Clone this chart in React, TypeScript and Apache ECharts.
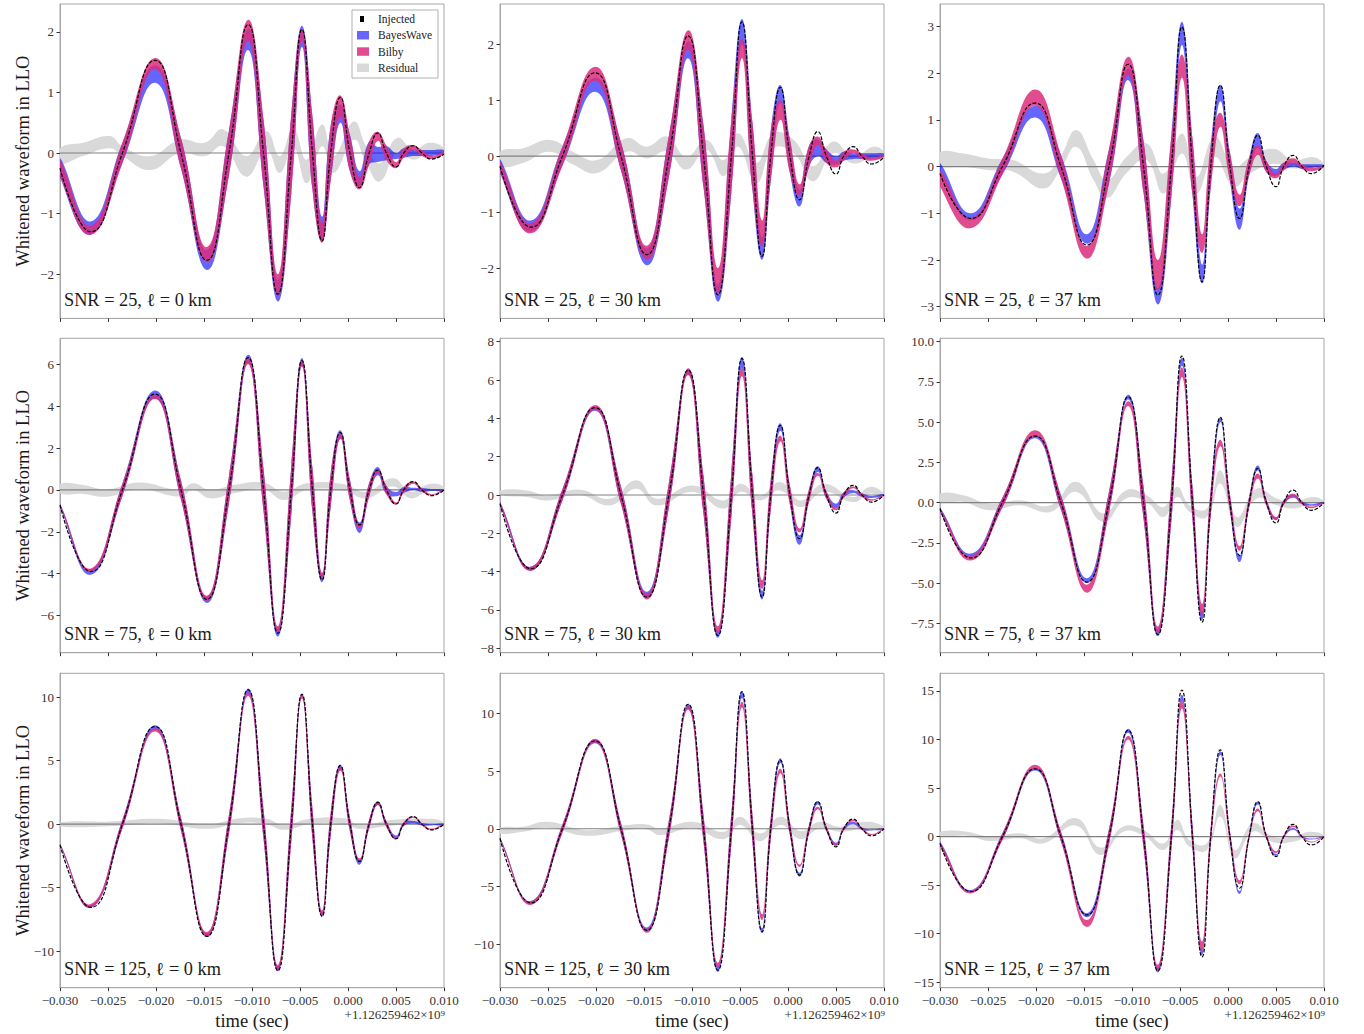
import React, { useEffect, useRef } from "react";
import * as echarts from "echarts";

// ---- shared time samples (extrema incl. start/end, and zero crossings) ----
const EXT_T = [-0.0300, -0.0268, -0.0201, -0.0147, -0.0104, -0.0073, -0.0048, -0.0027, -0.0008, 0.0012, 0.0031, 0.0050, 0.0068, 0.0087, 0.0100];
const ZERO_T = [-0.0235, -0.0174, -0.0124, -0.0088, -0.0059, -0.0037, -0.0018, 0.0002, 0.0022, 0.0040, 0.0058, 0.0077];
const X_TICKS = [-0.03, -0.025, -0.02, -0.015, -0.01, -0.005, 0, 0.005, 0.01];

const SNRS = [25, 75, 125];
const ELLS = [0, 30, 37];

const Y_RANGES = [
  [-2.73, 2.46], [-2.90, 2.72], [-3.25, 3.48],
  [-7.77, 7.24], [-8.23, 8.18], [-9.33, 10.21],
  [-12.89, 11.89], [-13.76, 13.46], [-15.56, 16.82],
];
const Y_TICKS = [
  [-2, -1, 0, 1, 2], [-2, -1, 0, 1, 2], [-3, -2, -1, 0, 1, 2, 3],
  [-6, -4, -2, 0, 2, 4, 6], [-8, -6, -4, -2, 0, 2, 4, 6, 8], [-7.5, -5, -2.5, 0, 2.5, 5, 7.5, 10],
  [-10, -5, 0, 5, 10], [-10, -5, 0, 5, 10], [-15, -10, -5, 0, 5, 10, 15],
];
const Y_DECIMALS = [0, 0, 0, 0, 0, 1, 0, 0, 0];

// band half-thickness at the zero crossings, per SNR row
const ZW_25 = [0.17, 0.25, 0.37, 0.55, 0.65, 0.6, 0.45, 0.3, 0.19, 0.12, 0.08, 0.05];
const ZW_75 = [0.3, 0.45, 0.65, 1.0, 1.15, 1.05, 0.8, 0.5, 0.33, 0.2, 0.14, 0.09];
const ZW_125 = [0.35, 0.5, 0.75, 1.15, 1.3, 1.2, 0.9, 0.55, 0.35, 0.22, 0.15, 0.1];

// ---- SNR 25 ----
const INJ_25_0 = [-0.25, -1.30, 1.53, -1.77, 2.12, -2.33, 2.04, -1.45, 0.92, -0.57, 0.33, -0.23, 0.12, -0.10, -0.02];
const BW_LO_25_0 = [-0.40, -1.35, 1.16, -1.93, 1.70, -2.45, 1.75, -1.45, 0.50, -0.55, -0.15, -0.10, -0.05, -0.05, 0.00];
const BW_HI_25_0 = [-0.08, -1.13, 1.45, -1.60, 2.05, -2.10, 2.10, -1.05, 0.80, -0.30, 0.10, 0.00, 0.05, 0.05, 0.05];
const BB_LO_25_0 = [-0.38, -1.35, 1.38, -1.80, 1.85, -2.35, 1.85, -1.48, 0.60, -0.60, 0.20, -0.25, 0.05, -0.10, -0.02];
const BB_HI_25_0 = [-0.12, -1.20, 1.57, -1.55, 2.20, -2.00, 2.05, -1.15, 0.95, -0.40, 0.35, -0.15, 0.13, -0.05, 0.02];

const INJ_25_30 = [-0.18, -1.27, 1.49, -1.76, 2.15, -2.48, 2.40, -1.79, 1.23, -0.78, 0.44, -0.32, 0.17, -0.14, -0.02];
const BW_LO_25_30 = [-0.30, -1.35, 1.15, -1.95, 1.75, -2.60, 2.00, -1.85, 0.95, -0.90, 0.00, -0.15, -0.05, -0.05, 0.00];
const BW_HI_25_30 = [-0.05, -1.15, 1.40, -1.65, 2.05, -2.30, 2.45, -1.45, 1.27, -0.60, 0.30, 0.00, 0.05, 0.05, 0.05];
const BB_LO_25_30 = [-0.28, -1.38, 1.35, -1.85, 1.90, -2.45, 1.75, -1.60, 0.65, -0.70, 0.20, -0.20, 0.05, -0.08, -0.02];
const BB_HI_25_30 = [-0.10, -1.20, 1.60, -1.60, 2.25, -2.00, 2.10, -1.15, 1.00, -0.50, 0.35, -0.08, 0.12, -0.03, 0.02];

const INJ_25_37 = [-0.15, -1.11, 1.36, -1.68, 2.19, -2.75, 2.99, -2.47, 1.74, -1.11, 0.67, -0.43, 0.24, -0.15, 0.03];
const BW_LO_25_37 = [-0.15, -1.15, 1.05, -1.65, 1.85, -2.95, 2.60, -2.50, 1.40, -1.35, 0.40, -0.20, 0.00, -0.03, 0.00];
const BW_HI_25_37 = [0.08, -1.00, 1.30, -1.45, 2.10, -2.60, 3.10, -2.10, 1.75, -0.90, 0.72, -0.05, 0.08, 0.05, 0.04];
const BB_LO_25_37 = [-0.42, -1.32, 1.30, -1.97, 1.95, -2.65, 1.90, -1.85, 0.85, -0.85, 0.25, -0.25, 0.08, -0.10, -0.02];
const BB_HI_25_37 = [-0.08, -1.10, 1.65, -1.70, 2.35, -2.00, 2.40, -1.45, 1.15, -0.60, 0.45, -0.15, 0.18, -0.03, 0.02];

// ---- SNR 75 ----
const INJ_75_0 = [-0.72, -3.90, 4.58, -5.22, 6.32, -6.84, 6.18, -4.30, 2.74, -1.67, 0.95, -0.67, 0.40, -0.27, 0.00];
const BW_LO_75_0 = [-0.82, -4.05, 4.35, -5.40, 6.05, -7.00, 5.90, -4.40, 2.45, -2.05, 0.70, -0.30, 0.00, -0.05, -0.05];
const BW_HI_75_0 = [-0.65, -3.80, 4.75, -5.10, 6.45, -6.60, 6.30, -4.00, 2.85, -1.55, 1.10, -0.10, 0.10, 0.05, 0.03];
const BB_LO_75_0 = [-0.80, -3.90, 4.35, -5.30, 6.00, -6.80, 5.90, -4.20, 2.45, -1.85, 0.80, -0.70, 0.30, -0.25, -0.03];
const BB_HI_75_0 = [-0.68, -3.75, 4.55, -5.05, 6.30, -6.50, 6.20, -3.95, 2.70, -1.60, 0.95, -0.60, 0.40, -0.20, 0.03];

const INJ_75_30 = [-0.45, -3.85, 4.56, -5.33, 6.52, -7.33, 7.13, -5.33, 3.64, -2.28, 1.43, -0.94, 0.50, -0.37, 0.00];
const BW_LO_75_30 = [-0.55, -3.95, 4.40, -5.35, 6.30, -7.45, 6.60, -5.45, 3.35, -2.60, 1.20, -0.70, 0.10, -0.15, -0.05];
const BW_HI_75_30 = [-0.35, -3.75, 4.60, -5.05, 6.60, -7.10, 7.20, -5.00, 3.75, -2.10, 1.50, -0.45, 0.25, -0.05, 0.05];
const BB_LO_75_30 = [-0.55, -3.95, 4.45, -5.45, 6.25, -7.20, 6.20, -4.90, 2.80, -1.95, 1.00, -0.80, 0.35, -0.30, -0.03];
const BB_HI_75_30 = [-0.38, -3.75, 4.70, -5.15, 6.60, -6.85, 6.60, -4.45, 3.10, -1.75, 1.15, -0.70, 0.45, -0.22, 0.03];

const INJ_75_37 = [-0.37, -3.44, 4.13, -4.94, 6.58, -8.20, 9.11, -7.43, 5.29, -3.28, 2.12, -1.27, 0.77, -0.48, 0.00];
const BW_LO_75_37 = [-0.50, -3.38, 4.00, -5.00, 6.40, -8.30, 8.50, -7.30, 5.00, -3.70, 2.00, -1.10, 0.30, -0.20, -0.05];
const BW_HI_75_37 = [-0.30, -3.17, 4.20, -4.70, 6.70, -7.90, 9.00, -6.80, 5.30, -3.30, 2.30, -0.95, 0.50, -0.10, 0.05];
const BB_LO_75_37 = [-0.60, -3.60, 4.10, -5.60, 6.00, -8.10, 7.80, -7.00, 3.50, -3.00, 1.50, -1.05, 0.40, -0.35, -0.03];
const BB_HI_75_37 = [-0.40, -3.30, 4.50, -5.10, 6.30, -7.70, 8.40, -6.30, 3.90, -2.70, 1.80, -0.90, 0.55, -0.25, 0.03];

// ---- SNR 125 ----
const INJ_125_0 = [-1.63, -6.56, 7.69, -8.85, 10.58, -11.55, 10.24, -7.27, 4.62, -2.94, 1.71, -1.15, 0.60, -0.45, 0.00];
const BW_LO_125_0 = [-1.70, -6.60, 7.45, -8.90, 10.30, -11.60, 10.00, -7.30, 4.30, -3.20, 1.50, -1.10, 0.05, -0.10, -0.05];
const BW_HI_125_0 = [-1.55, -6.40, 7.80, -8.60, 10.70, -11.20, 10.30, -6.90, 4.70, -2.80, 1.80, -0.90, 0.25, 0.00, 0.05];
const BB_LO_125_0 = [-1.70, -6.55, 7.30, -8.80, 10.10, -11.50, 9.90, -7.20, 4.20, -2.90, 1.50, -1.20, 0.50, -0.45, -0.05];
const BB_HI_125_0 = [-1.55, -6.30, 7.55, -8.50, 10.40, -11.10, 10.20, -6.80, 4.50, -2.70, 1.70, -1.05, 0.60, -0.35, 0.05];

const INJ_125_30 = [-0.84, -6.42, 7.60, -8.79, 10.78, -12.25, 11.88, -8.93, 5.95, -4.02, 2.34, -1.56, 0.84, -0.61, 0.00];
const BW_LO_125_30 = [-0.95, -6.50, 7.40, -8.90, 10.40, -12.40, 11.30, -9.00, 5.70, -4.15, 2.10, -1.40, 0.40, -0.15, -0.05];
const BW_HI_125_30 = [-0.75, -6.25, 7.70, -8.55, 10.80, -11.90, 11.90, -8.60, 6.10, -3.80, 2.40, -1.20, 0.60, -0.05, 0.05];
const BB_LO_125_30 = [-0.95, -6.60, 7.50, -9.00, 10.30, -12.00, 10.50, -7.90, 4.80, -3.30, 1.70, -1.50, 0.65, -0.55, -0.05];
const BB_HI_125_30 = [-0.75, -6.30, 7.80, -8.70, 10.60, -11.60, 11.00, -7.40, 5.20, -3.10, 1.90, -1.35, 0.80, -0.45, 0.05];

const INJ_125_37 = [-0.69, -5.66, 6.97, -8.07, 10.95, -13.83, 15.10, -12.39, 8.93, -5.32, 3.60, -2.06, 1.27, -0.86, 0.00];
const BW_LO_125_37 = [-0.90, -5.70, 6.80, -8.30, 10.70, -14.00, 14.00, -12.20, 8.40, -5.90, 3.30, -2.00, 0.70, -0.30, -0.05];
const BW_HI_125_37 = [-0.50, -5.50, 7.10, -7.90, 11.10, -13.50, 14.60, -11.70, 8.80, -5.60, 3.60, -1.80, 0.90, -0.20, 0.05];
const BB_LO_125_37 = [-1.00, -5.85, 7.00, -9.30, 10.00, -13.70, 13.20, -11.80, 6.20, -4.90, 2.60, -1.70, 1.00, -0.60, -0.05];
const BB_HI_125_37 = [-0.60, -5.60, 7.40, -8.60, 10.40, -13.20, 14.00, -10.80, 6.50, -4.50, 2.90, -1.50, 1.15, -0.50, 0.05];

// ---- residual bands: [time, lower, upper] ----
const RES_25_0 = [
  [-0.0300, -0.17, 0.08], [-0.0276, -0.05, 0.17], [-0.0248, 0.08, 0.28], [-0.0235, -0.05, 0.11],
  [-0.0206, -0.28, -0.05], [-0.0175, 0.00, 0.22], [-0.0149, -0.05, 0.17], [-0.0130, 0.11, 0.39],
  [-0.0106, -0.39, -0.05], [-0.0085, 0.05, 0.36], [-0.0071, -0.33, -0.05], [-0.0057, 0.10, 0.41],
  [-0.0043, -0.50, -0.11], [-0.0027, 0.11, 0.47], [-0.0015, -0.33, -0.05], [0.0006, 0.22, 0.52],
  [0.0019, -0.17, 0.11], [0.0033, -0.47, -0.17], [0.0051, 0.00, 0.25], [0.0068, -0.11, 0.06],
  [0.0085, 0.00, 0.17], [0.0100, -0.05, 0.08],
];
const RES_25_30 = [
  [-0.0300, -0.18, 0.08], [-0.0276, -0.12, 0.14], [-0.0248, 0.08, 0.29], [-0.0224, -0.15, 0.08],
  [-0.0199, -0.30, -0.07], [-0.0168, 0.08, 0.32], [-0.0147, -0.04, 0.17], [-0.0126, 0.08, 0.35],
  [-0.0106, -0.24, -0.01], [-0.0085, 0.11, 0.29], [-0.0067, -0.36, -0.07], [-0.0052, 0.17, 0.41],
  [-0.0033, -0.48, -0.12], [-0.0015, 0.14, 0.41], [0.0006, 0.05, 0.29], [0.0026, -0.45, -0.18],
  [0.0047, 0.05, 0.26], [0.0068, -0.13, -0.01], [0.0089, -0.01, 0.17], [0.0100, -0.04, 0.08],
];
const RES_25_37 = [
  [-0.0300, 0.03, 0.31], [-0.0276, 0.00, 0.28], [-0.0248, -0.08, 0.17], [-0.0224, -0.11, 0.14],
  [-0.0192, -0.47, -0.15], [-0.0175, -0.08, 0.20], [-0.0158, 0.42, 0.78], [-0.0140, -0.29, 0.14],
  [-0.0126, -0.68, -0.29], [-0.0106, -0.15, 0.20], [-0.0085, 0.14, 0.50], [-0.0067, -0.58, -0.15],
  [-0.0048, 0.28, 0.71], [-0.0033, -0.58, -0.22], [-0.0014, 0.21, 0.64], [0.0006, -0.43, 0.00],
  [0.0023, -0.15, 0.20], [0.0047, 0.06, 0.38], [0.0068, -0.04, 0.14], [0.0089, 0.03, 0.20],
  [0.0100, -0.04, 0.06],
];
const RES_75_0 = [
  [-0.0300, -0.16, 0.29], [-0.0276, -0.19, 0.24], [-0.0251, -0.32, 0.03], [-0.0217, 0.03, 0.35],
  [-0.0175, -0.32, 0.00], [-0.0161, 0.00, 0.32], [-0.0144, -0.40, 0.00], [-0.0119, -0.16, 0.24],
  [-0.0088, 0.03, 0.35], [-0.0067, -0.48, -0.08], [-0.0043, 0.00, 0.32], [-0.0005, -0.03, 0.29],
  [0.0019, -0.40, -0.08], [0.0047, 0.16, 0.56], [0.0065, -0.40, -0.08], [0.0085, -0.03, 0.29],
  [0.0100, -0.08, 0.16],
];
const RES_75_30 = [
  [-0.0300, 0.00, 0.24], [-0.0272, -0.10, 0.24], [-0.0251, -0.28, -0.02], [-0.0217, 0.00, 0.28],
  [-0.0185, -0.54, -0.19], [-0.0158, 0.33, 0.77], [-0.0137, -0.54, -0.19], [-0.0099, 0.16, 0.50],
  [-0.0067, -0.71, -0.28], [-0.0050, 0.16, 0.59], [-0.0029, -0.28, -0.02], [-0.0008, 0.24, 0.68],
  [0.0013, -0.63, -0.28], [0.0037, 0.16, 0.59], [0.0068, -0.37, -0.10], [0.0085, 0.07, 0.42],
  [0.0100, -0.10, 0.10],
];
const RES_75_37 = [
  [-0.0300, 0.04, 0.56], [-0.0276, 0.04, 0.46], [-0.0248, -0.48, -0.06], [-0.0217, -0.17, 0.15],
  [-0.0185, -0.58, -0.17], [-0.0158, 0.66, 1.29], [-0.0130, -1.20, -0.68], [-0.0106, 0.25, 0.77],
  [-0.0085, 0.04, 0.46], [-0.0067, -0.89, -0.27], [-0.0053, 0.35, 0.98], [-0.0040, -0.58, -0.17],
  [-0.0022, -0.89, -0.37], [-0.0008, 1.18, 2.00], [0.0009, -1.50, -0.90], [0.0030, 0.25, 0.87],
  [0.0051, -0.17, 0.25], [0.0068, -0.37, 0.04], [0.0089, -0.06, 0.35], [0.0100, -0.10, 0.10],
];
const RES_125_0 = [
  [-0.0300, -0.18, 0.16], [-0.0248, -0.16, 0.21], [-0.0196, 0.05, 0.42], [-0.0147, -0.37, 0.00],
  [-0.0113, 0.08, 0.47], [-0.0085, 0.00, 0.42], [-0.0067, -0.45, -0.05], [-0.0040, 0.00, 0.42],
  [-0.0005, 0.00, 0.47], [0.0013, -0.37, -0.05], [0.0047, -0.10, 0.34], [0.0085, 0.00, 0.42],
  [0.0100, -0.16, 0.16],
];
const RES_125_30 = [
  [-0.0300, -0.40, 0.09], [-0.0276, -0.26, 0.17], [-0.0251, 0.09, 0.60], [-0.0210, -0.60, -0.12],
  [-0.0168, -0.12, 0.32], [-0.0147, -0.06, 0.38], [-0.0133, -0.55, 0.03], [-0.0099, 0.03, 0.60],
  [-0.0067, -0.90, -0.26], [-0.0050, 0.32, 1.04], [-0.0029, -1.07, -0.40], [-0.0008, 0.32, 1.04],
  [0.0013, -0.90, -0.20], [0.0033, 0.03, 0.60], [0.0054, -0.26, 0.17], [0.0082, 0.03, 0.60],
  [0.0100, -0.17, 0.17],
];
const RES_125_37 = [
  [-0.0300, 0.00, 0.50], [-0.0272, 0.10, 0.50], [-0.0248, -0.45, 0.00], [-0.0217, -0.17, 0.34],
  [-0.0192, -0.69, -0.17], [-0.0158, 1.13, 1.90], [-0.0133, -1.89, -1.13], [-0.0109, 0.50, 1.03],
  [-0.0088, 0.10, 0.69], [-0.0067, -1.37, -0.69], [-0.0053, 0.69, 1.72], [-0.0040, -1.03, -0.34],
  [-0.0022, -1.37, -0.69], [-0.0008, 2.06, 3.26], [0.0007, -2.23, -1.37], [0.0026, 0.50, 1.37],
  [0.0047, -0.58, 0.00], [0.0068, -0.52, 0.00], [0.0085, 0.00, 0.50], [0.0100, -0.17, 0.17],
];

const PANELS = [
  { inj: INJ_25_0, bwLo: BW_LO_25_0, bwHi: BW_HI_25_0, bbLo: BB_LO_25_0, bbHi: BB_HI_25_0, res: RES_25_0, zw: ZW_25 },
  { inj: INJ_25_30, bwLo: BW_LO_25_30, bwHi: BW_HI_25_30, bbLo: BB_LO_25_30, bbHi: BB_HI_25_30, res: RES_25_30, zw: ZW_25 },
  { inj: INJ_25_37, bwLo: BW_LO_25_37, bwHi: BW_HI_25_37, bbLo: BB_LO_25_37, bbHi: BB_HI_25_37, res: RES_25_37, zw: ZW_25 },
  { inj: INJ_75_0, bwLo: BW_LO_75_0, bwHi: BW_HI_75_0, bbLo: BB_LO_75_0, bbHi: BB_HI_75_0, res: RES_75_0, zw: ZW_75 },
  { inj: INJ_75_30, bwLo: BW_LO_75_30, bwHi: BW_HI_75_30, bbLo: BB_LO_75_30, bbHi: BB_HI_75_30, res: RES_75_30, zw: ZW_75 },
  { inj: INJ_75_37, bwLo: BW_LO_75_37, bwHi: BW_HI_75_37, bbLo: BB_LO_75_37, bbHi: BB_HI_75_37, res: RES_75_37, zw: ZW_75 },
  { inj: INJ_125_0, bwLo: BW_LO_125_0, bwHi: BW_HI_125_0, bbLo: BB_LO_125_0, bbHi: BB_HI_125_0, res: RES_125_0, zw: ZW_125 },
  { inj: INJ_125_30, bwLo: BW_LO_125_30, bwHi: BW_HI_125_30, bbLo: BB_LO_125_30, bbHi: BB_HI_125_30, res: RES_125_30, zw: ZW_125 },
  { inj: INJ_125_37, bwLo: BW_LO_125_37, bwHi: BW_HI_125_37, bbLo: BB_LO_125_37, bbHi: BB_HI_125_37, res: RES_125_37, zw: ZW_125 },
];

// ---- layout / style ----
const COL_LEFT = [60, 500, 940];
const ROW_TOP = [4, 338.3, 673.3];
const GRID_W = 384;
const GRID_H = 314.4;
const FONT = "'Liberation Serif', 'DejaVu Serif', serif";
const SPINE = "#a6a6a6";
const TICK = "#333333";
const BLUE = "rgba(0,0,255,0.6)";
const PINK = "rgba(220,45,125,0.85)";
const GREY = "#d9d9d9";

function fmt(v: number, d: number): string {
  if (Math.abs(v) < 1e-9) return (0).toFixed(d);
  const s = Math.abs(v).toFixed(d);
  return v < 0 ? "\u2212" + s : s;
}

function curve(ext: number[], zero: number[]): number[][] {
  const pts: number[][] = [[EXT_T[0], ext[0]], [EXT_T[1], ext[1]]];
  for (let i = 0; i < ZERO_T.length; i++) {
    pts.push([ZERO_T[i], zero[i]]);
    pts.push([EXT_T[i + 2], ext[i + 2]]);
  }
  pts.push([EXT_T[EXT_T.length - 1], ext[ext.length - 1]]);
  return pts;
}

// filled band between two curves, drawn through the axes' own scales
function bandSeries(k: number, key: string, lo: number[][], hi: number[][], color: string, z: number) {
  return {
    type: "custom",
    name: key + "_" + k,
    xAxisIndex: k,
    yAxisIndex: k,
    silent: true,
    clip: true,
    z,
    data: hi,
    renderItem: (params: any, api: any) => {
      if (params.dataIndex !== 0) return null;
      const upper = hi.map((p) => api.coord(p));
      const lower = lo.map((p) => api.coord(p)).reverse();
      return {
        type: "polygon",
        shape: { points: upper.concat(lower), smooth: 0.45 },
        style: { fill: color, stroke: null },
      };
    },
  };
}

function buildOption() {
  const grid: any[] = [];
  const xAxis: any[] = [];
  const yAxis: any[] = [];
  const series: any[] = [];
  const graphic: any[] = [];

  for (let r = 0; r < 3; r++) {
    for (let c = 0; c < 3; c++) {
      const k = r * 3 + c;
      const P = PANELS[k];
      const left = COL_LEFT[c];
      const top = ROW_TOP[r];
      grid.push({
        left, top, width: GRID_W, height: GRID_H,
        show: true, borderColor: SPINE, borderWidth: 1, backgroundColor: "transparent",
        containLabel: false,
      });
      xAxis.push({
        gridIndex: k, type: "value",
        min: X_TICKS[0], max: X_TICKS[X_TICKS.length - 1],
        axisLine: { show: true, onZero: false, lineStyle: { color: SPINE, width: 1 } },
        axisTick: { show: true, inside: false, length: 3.5, customValues: X_TICKS, lineStyle: { color: TICK, width: 1 } },
        axisLabel: {
          show: r === 2, customValues: X_TICKS, margin: 6,
          color: TICK, fontFamily: FONT, fontSize: 13,
          formatter: (v: number) => fmt(v, 3),
          showMinLabel: true, showMaxLabel: true,
        },
        splitLine: { show: false },
      });
      yAxis.push({
        gridIndex: k, type: "value",
        min: Y_RANGES[k][0], max: Y_RANGES[k][1],
        axisLine: { show: true, onZero: false, lineStyle: { color: SPINE, width: 1 } },
        axisTick: { show: true, inside: false, length: 3.5, customValues: Y_TICKS[k], lineStyle: { color: TICK, width: 1 } },
        axisLabel: {
          show: true, customValues: Y_TICKS[k], margin: 6,
          color: TICK, fontFamily: FONT, fontSize: 13,
          formatter: (v: number) => fmt(v, Y_DECIMALS[k]),
        },
        splitLine: { show: false },
      });

      // residual band
      const resLo = P.res.map((p) => [p[0], p[1]]);
      const resHi = P.res.map((p) => [p[0], p[2]]);
      series.push(bandSeries(k, "Residual", resLo, resHi, GREY, 1));

      // zero line
      series.push({
        type: "line", name: "zero_" + k, xAxisIndex: k, yAxisIndex: k, silent: true,
        symbol: "none", z: 2,
        data: [[X_TICKS[0], 0], [X_TICKS[X_TICKS.length - 1], 0]],
        lineStyle: { color: "#808080", width: 1.2 },
      });

      const zNeg = P.zw.map((w) => -w);
      series.push(bandSeries(k, "BayesWave", curve(P.bwLo, zNeg), curve(P.bwHi, P.zw), BLUE, 3));
      series.push(bandSeries(k, "Bilby", curve(P.bbLo, zNeg), curve(P.bbHi, P.zw), PINK, 4));

      series.push({
        type: "line", name: "Injected_" + k, xAxisIndex: k, yAxisIndex: k, silent: true,
        smooth: true, symbol: "none", showSymbol: false, z: 6,
        data: curve(P.inj, P.zw.map(() => 0)),
        lineStyle: { color: "#000", width: 1.2, type: [3.7, 1.6] },
      });

      // panel annotation
      graphic.push({
        type: "text", x: left + 4, y: top + GRID_H - 18.5, z: 50,
        style: {
          text: `SNR = ${SNRS[r]}, \u2113 = ${ELLS[c]} km`,
          font: `18.3px ${FONT}`, fill: "#1a1a1a", verticalAlign: "middle", align: "left",
        },
      });
    }
    // y label
    graphic.push({
      type: "text", x: 23, y: ROW_TOP[r] + GRID_H / 2, rotation: Math.PI / 2, z: 50,
      style: {
        text: "Whitened waveform in LLO",
        font: `18.5px ${FONT}`, fill: "#1a1a1a", align: "center", verticalAlign: "middle",
      },
    });
  }

  // bottom texts
  for (let c = 0; c < 3; c++) {
    const left = COL_LEFT[c];
    graphic.push({
      type: "text", x: left + GRID_W / 2, y: 1021, z: 50,
      style: { text: "time (sec)", font: `18.5px ${FONT}`, fill: "#1a1a1a", align: "center", verticalAlign: "middle" },
    });
    graphic.push({
      type: "text", x: left + GRID_W + 1, y: 1014, z: 50,
      style: { text: "+1.126259462\u00d710\u2079", font: `13px ${FONT}`, fill: TICK, align: "right", verticalAlign: "middle" },
    });
  }

  // legend (top-left panel)
  graphic.push({
    type: "rect", z: 90,
    shape: { x: 352, y: 10, width: 86, height: 68 },
    style: { fill: "rgba(255,255,255,0.85)", stroke: "#b0b0b0", lineWidth: 1 },
  });
  graphic.push({ type: "rect", z: 91, shape: { x: 360, y: 16, width: 4, height: 6 }, style: { fill: "#000" } });
  graphic.push({ type: "rect", z: 91, shape: { x: 357, y: 31, width: 12, height: 8.5 }, style: { fill: BLUE } });
  graphic.push({ type: "rect", z: 91, shape: { x: 357, y: 47.3, width: 12, height: 8.5 }, style: { fill: PINK } });
  graphic.push({ type: "rect", z: 91, shape: { x: 357, y: 63.5, width: 12, height: 8.5 }, style: { fill: GREY } });
  const legendNames = ["Injected", "BayesWave", "Bilby", "Residual"];
  const legendY = [19, 35.3, 51.6, 67.8];
  legendNames.forEach((n, i) => {
    graphic.push({
      type: "text", x: 378, y: legendY[i], z: 92,
      style: { text: n, font: `11.5px ${FONT}`, fill: "#1a1a1a", align: "left", verticalAlign: "middle" },
    });
  });

  return { animation: false, grid, xAxis, yAxis, series, graphic };
}

export default function App() {
  const ref = useRef<HTMLDivElement>(null);
  useEffect(() => {
    if (!ref.current) return;
    const chart = echarts.init(ref.current, null, { renderer: "svg" });
    chart.setOption(buildOption() as any);
    return () => chart.dispose();
  }, []);
  return (
    <div
      ref={ref}
      style={{ position: "absolute", left: 0, top: 0, width: 1364, height: 1034, background: "#fff" }}
    />
  );
}
